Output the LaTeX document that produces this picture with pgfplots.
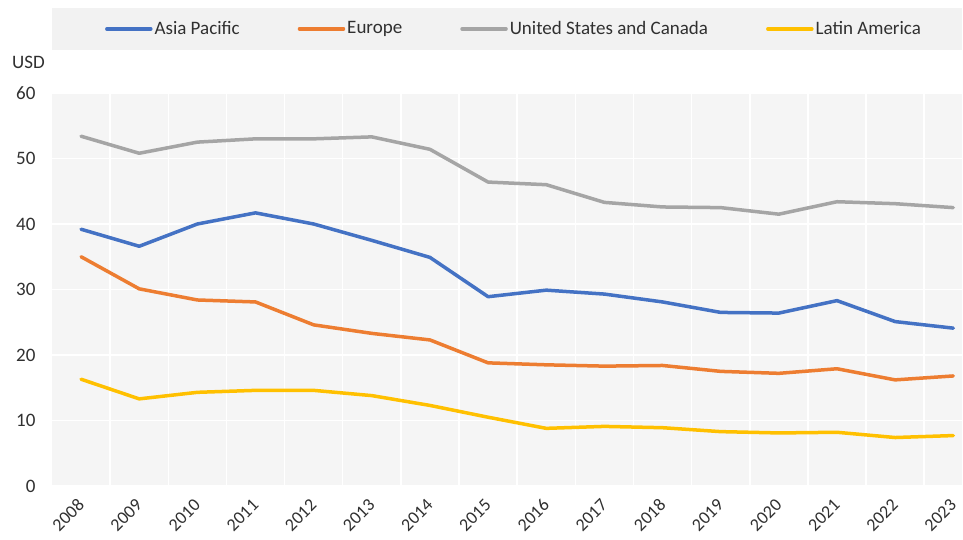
\documentclass[border=0pt]{standalone}
\usepackage{fontspec}
\setmainfont{Carlito}
\usepackage{pgfplots}
\usepackage{pgfplotstable}
\pgfplotsset{compat=1.18}

\definecolor{apblue}{HTML}{4472C4}
\definecolor{euorange}{HTML}{ED7D31}
\definecolor{usgray}{HTML}{A5A5A5}
\definecolor{layellow}{HTML}{FFC000}
\definecolor{plotbg}{HTML}{F5F5F5}
\definecolor{legbg}{HTML}{F2F2F2}
\definecolor{txt}{HTML}{303030}

% x = 0..15 stands for 2008..2023
\pgfplotstableread{
x  ap    eu    us    la
0  39.2  35.0  53.4  16.3
1  36.6  30.1  50.8  13.3
2  40.0  28.4  52.5  14.3
3  41.7  28.1  53.0  14.6
4  40.0  24.6  53.0  14.6
5  37.5  23.3  53.3  13.8
6  34.9  22.3  51.4  12.3
7  28.9  18.8  46.4  10.5
8  29.9  18.5  46.0   8.8
9  29.3  18.3  43.3   9.1
10 28.1  18.4  42.6   8.9
11 26.5  17.5  42.5   8.3
12 26.4  17.2  41.5   8.1
13 28.3  17.9  43.4   8.2
14 25.1  16.2  43.1   7.4
15 24.1  16.8  42.5   7.7
}\datatable

\begin{document}
\fontsize{19}{22}\selectfont
\begin{tikzpicture}
\path[use as bounding box, fill=white] (0,0) rectangle (963pt,540pt);
\fill[legbg] (52pt,490pt) rectangle (962pt,532pt);
\begin{axis}[
  at={(52pt,54pt)}, anchor=south west,
  width=910pt, height=393pt, scale only axis,
  axis background/.style={fill=plotbg},
  axis line style={draw=none},
  xmin=-0.5, xmax=15.15, ymin=0, ymax=60,
  xtick={0,...,15},
  xticklabels={2008,2009,2010,2011,2012,2013,2014,2015,2016,2017,2018,2019,2020,2021,2022,2023},
  minor xtick={0.5,1.5,...,14.5},
  ytick={0,10,...,60},
  major tick length=0pt, minor tick length=0pt,
  ymajorgrids, xminorgrids,
  major grid style={white, line width=1.5pt},
  minor grid style={white, line width=1.5pt},
  /pgf/number format/assume math mode=true,
  tick label style={font=\fontsize{19}{22}\selectfont, text=txt},
  yticklabel style={xshift=-10pt},
  xticklabel style={rotate=45, anchor=east, inner sep=0pt, font=\fontsize{18}{21}\selectfont},
  xticklabel shift=16pt,
  legend columns=4,
  legend style={at={(axis description cs:0.5077,1.163)}, anchor=center,
    draw=none, fill=none, font=\fontsize{19}{22}\selectfont, text=txt,
    /tikz/every even column/.style={column sep=56pt}},
  legend image code/.code={\draw[#1] (0pt,0pt) -- (44pt,0pt);},
  every axis plot/.append style={line width=3.5pt, line join=round, line cap=round},
]
\addplot[apblue] table[x=x, y=ap] {\datatable};
\addlegendentry{Asia Pacific}
\addplot[euorange] table[x=x, y=eu] {\datatable};
\addlegendentry{Europe}
\addplot[usgray] table[x=x, y=us] {\datatable};
\addlegendentry{United States and Canada}
\addplot[layellow] table[x=x, y=la] {\datatable};
\addlegendentry{Latin America}
\end{axis}
\node[anchor=west, text=txt, inner sep=0pt] at (12pt,478pt) {USD};
\end{tikzpicture}
\end{document}
